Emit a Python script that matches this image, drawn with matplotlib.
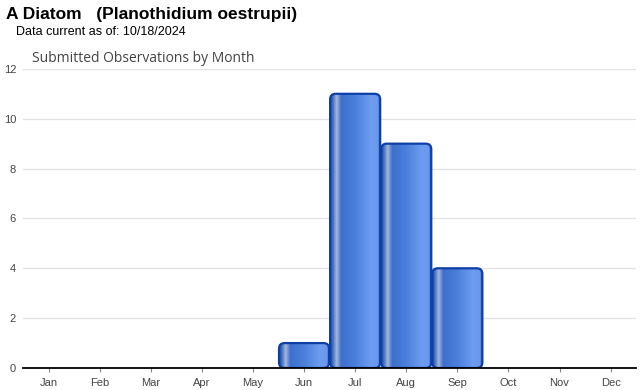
import matplotlib.pyplot as plt
import numpy as np
from matplotlib.patches import FancyBboxPatch
from matplotlib.colors import LinearSegmentedColormap

months = ["Jan", "Feb", "Mar", "Apr", "May", "Jun", "Jul", "Aug", "Sep", "Oct", "Nov", "Dec"]
counts = [0, 0, 0, 0, 0, 1, 11, 9, 4, 0, 0, 0]
y_ticks = [0, 2, 4, 6, 8, 10, 12]

plt.rcParams['font.family'] = ['Liberation Sans', 'DejaVu Sans']

fig = plt.figure(figsize=(6.4, 3.9), dpi=100)
ax = fig.add_axes([0.036, 0.0564, 0.958, 0.767])

# bar shading, left to right
shade = LinearSegmentedColormap.from_list("bar", [
    (0.0, "#1848a8"), (0.06, "#4a72c0"), (0.13, "#a4b8dc"), (0.22, "#3e6fcc"),
    (0.5, "#4a80dc"), (0.8, "#6d9cf0"), (0.94, "#6a98ec"), (1.0, "#1c4cb0")])
grad = np.linspace(0, 1, 256).reshape(1, -1)

# x units are ~51px, y units ~25px, so stretch the corner radius
aspect = 25.0 / 51.0

width = 0.98
for i, c in enumerate(counts):
    if c <= 0:
        continue
    x0 = i - width / 2
    box = FancyBboxPatch((x0, 0), width, c,
                         boxstyle="round,pad=0,rounding_size=0.11",
                         mutation_aspect=1 / aspect,
                         facecolor="none", edgecolor="#0d3fa6", linewidth=1.6, zorder=3)
    ax.add_patch(box)
    im = ax.imshow(grad, cmap=shade, aspect="auto", extent=(x0, x0 + width, 0, c), zorder=2)
    im.set_clip_path(box)

ax.set_xlim(-0.5, 11.5)
ax.set_ylim(0, 12)
ax.set_xticks(range(12))
ax.set_xticklabels(months)
ax.set_yticks(y_ticks)
ax.tick_params(axis="x", length=3, color="#888888", labelsize=8, labelcolor="#444444", pad=4)
ax.tick_params(axis="y", length=0, labelsize=8, labelcolor="#444444", pad=5)
ax.grid(axis="y", color="#e2e2e2", linewidth=0.9, zorder=0)
ax.set_axisbelow(True)
for s in ["top", "right", "left"]:
    ax.spines[s].set_visible(False)
ax.spines["bottom"].set_color("black")
ax.spines["bottom"].set_linewidth(1.3)
ax.spines["bottom"].set_zorder(4)

fig.text(6 / 640, 1 - 14 / 390, "A Diatom   (Planothidium oestrupii)", fontsize=12.5,
         fontweight="bold", va="center", ha="left")
fig.text(16 / 640, 1 - 32 / 390, "Data current as of: 10/18/2024", fontsize=9,
         va="center", ha="left")
fig.text(32 / 640, 1 - 58 / 390, "Submitted Observations by Month", fontsize=10,
         va="center", ha="left", color="#444444", family=["Open Sans", "DejaVu Sans"])

fig.savefig("out.png", dpi=100)
